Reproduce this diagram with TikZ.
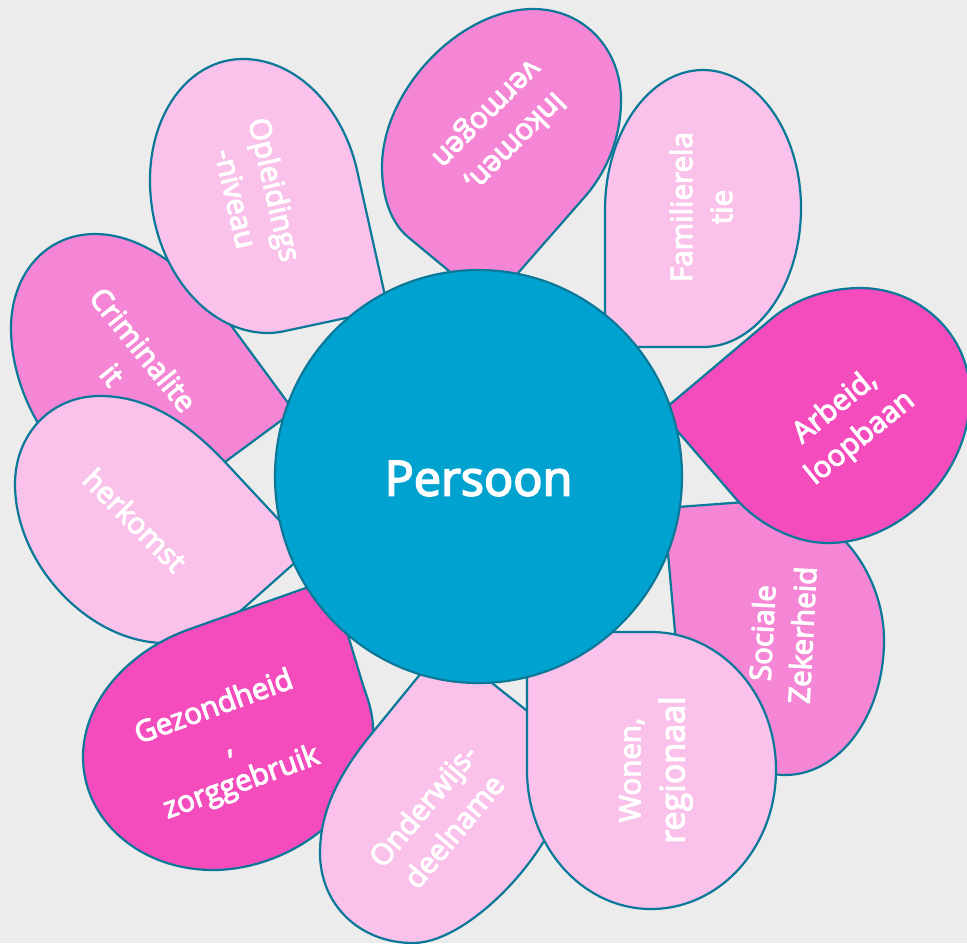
\documentclass[tikz,border=0pt]{standalone}
\usepackage{fontspec}
\usetikzlibrary{shapes.geometric}
\setmainfont{Open Sans}[FakeBold=3.5]
\definecolor{bgc}{HTML}{ECECEC}
\definecolor{pinkA}{HTML}{FAC1EA}
\definecolor{pinkB}{HTML}{F586D5}
\definecolor{pinkC}{HTML}{F44CBD}
\definecolor{hub}{HTML}{00A3CF}
\definecolor{edgec}{HTML}{0A7898}
\tikzset{
  petal/.style={draw=edgec,line width=2.2pt,line join=round},
  lbl/.style={text=white,align=center,inner sep=0pt,font=\fontsize{29.5}{40}\selectfont}
}
\begin{document}
\begin{tikzpicture}[x=1pt,y=-1pt]
\useasboundingbox (0,0) rectangle (967,943);
\fill[bgc] (0,0) rectangle (967,943);
% Sociale
\draw[petal,fill=pinkB] (664,508) -- (675,632) .. controls (683,710) and (730,775) .. (785,775)
  .. controls (840,775) and (884,715) .. (884,640) .. controls (884,575) and (835,497) .. (745,502) -- cycle;
% Familierelatie
\draw[petal,fill=pinkA] (605,347) -- (605,210) .. controls (605,133) and (649,70) .. (703,70)
  .. controls (757,70) and (801,133) .. (801,208) .. controls (801,285) and (757,347) .. (703,347) -- cycle;
% Criminaliteit
\draw[petal,fill=pinkB] (294,411) -- (230,324) .. controls (200,283) and (150,234) .. (95,234)
  .. controls (45,234) and (11,275) .. (11,328) .. controls (11,420) and (90,510) .. (160,510) -- cycle;
% herkomst
\draw[petal,fill=pinkA] (308,551) -- (225,462) .. controls (190,425) and (150,396) .. (100,396)
  .. controls (50,396) and (15,435) .. (15,484) .. controls (15,565) and (90,643) .. (165,643)
  .. controls (195,643) and (225,625) .. (245,607) -- cycle;
% Gezondheid
\draw[petal,fill=pinkC] (331,579) -- (190,629) .. controls (130,650) and (83,700) .. (83,757)
  .. controls (83,820) and (140,870) .. (213,870) .. controls (290,870) and (373,810) .. (373,730)
  .. controls (373,712) and (368,700) .. (363,685) -- cycle;
% Onderwijs
\draw[petal,fill=pinkA] (444,645) -- (373,732) .. controls (340,772) and (320,810) .. (320,853)
  .. controls (320,905) and (360,943) .. (413,943) .. controls (470,943) and (555,850) .. (565,790)
  .. controls (565,755) and (548,728) .. (526,710) -- cycle;
% Wonen
\draw[petal,fill=pinkA] (527,632) -- (527,770) .. controls (527,847) and (583,909) .. (651,909)
  .. controls (720,909) and (776,847) .. (776,770) .. controls (776,693) and (720,632) .. (651,632) -- cycle;
% Arbeid
\draw[petal,fill=pinkC] (661,412) -- (770,320) .. controls (795,298) and (830,288) .. (860,288)
  .. controls (920,288) and (970,335) .. (970,395) .. controls (970,475) and (900,543) .. (828,543)
  .. controls (795,543) and (760,525) .. (737,500) -- cycle;
% Opleidings
\draw[petal,fill=pinkA] (388,309) -- (357,170) .. controls (342,105) and (295,59) .. (243,59)
  .. controls (190,59) and (150,112) .. (150,180) .. controls (150,265) and (205,333) .. (268,333)
  .. controls (275,333) and (280,332) .. (285,331) -- cycle;
% Inkomen
\draw[petal,fill=pinkB] (490,305) -- (408,237) .. controls (390,222) and (382,195) .. (382,167)
  .. controls (382,90) and (460,9) .. (533,9) .. controls (585,9) and (621,50) .. (621,100)
  .. controls (621,140) and (605,175) .. (582,200) -- cycle;
% hub
\node[ellipse,draw=edgec,line width=2.2pt,fill=hub,minimum width=407pt,minimum height=413pt,inner sep=0pt] (persoon) at (478.5,476.5) {};
\node[text=white,inner sep=0pt,font=\fontsize{48.5}{50}\selectfont] (persoontxt) at (478.5,478.5) {Persoon};
% labels
\node[lbl,rotate=90] (familie) at (701,207) {Familierela\\tie};
\node[lbl,rotate=225] (inkomen) at (500,127) {Inkomen,\\vermogen};
\node[lbl,rotate=-77] (opleiding) at (256,194) {Opleidings\\-niveau};
\node[lbl,rotate=-51] (crimi) at (128,362) {Criminalite\\it};
\node[lbl,rotate=-45] (herkomst) at (135,520) {herkomst};
\node[lbl,rotate=20] (gezond) at (228,746) {Gezondheid\\,\\zorggebruik};
\node[lbl,rotate=50] (onderwijs) at (438,818) {Onderwijs-\\deelname};
\node[lbl,rotate=90] (wonen) at (656,770) {Wonen,\\[4pt]{\fontsize{34}{40}\selectfont regionaal}};
\node[lbl,rotate=87] (sociale) at (782,634) {Sociale\\Zekerheid};
\node[lbl,rotate=39] (arbeid) at (848,423) {Arbeid,\\loopbaan};
\end{tikzpicture}
\end{document}
